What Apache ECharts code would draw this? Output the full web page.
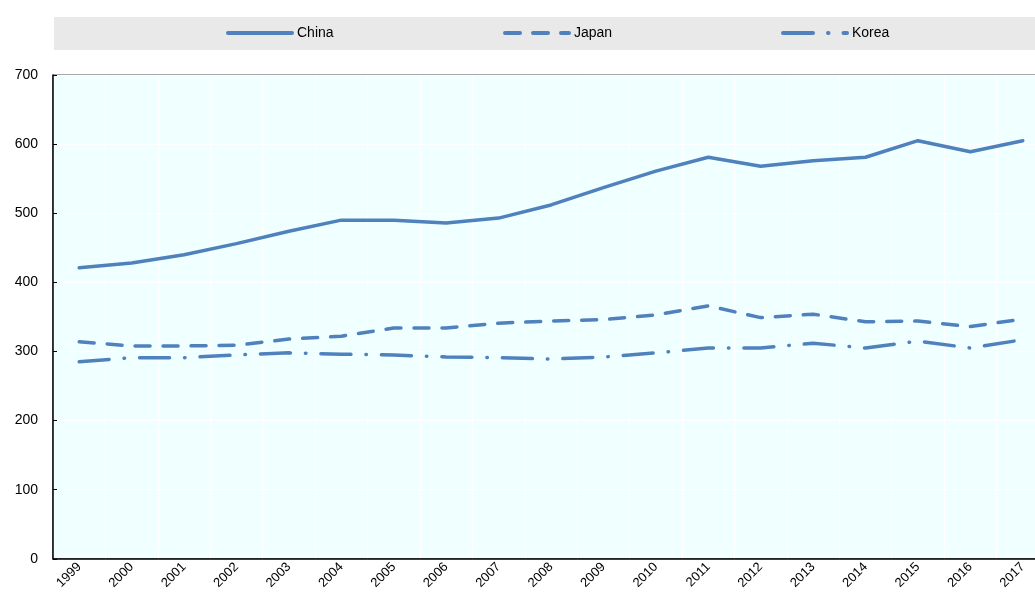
<!DOCTYPE html>
<html>
<head>
<meta charset="utf-8">
<script src="https://cdn.jsdelivr.net/npm/echarts@6/dist/echarts.min.js"></script>
<style>
  html, body { margin: 0; padding: 0; background: #fff; overflow: hidden; }
  /* the plot runs past the right edge of the window, as in the source */
  #chart { width: 1049px; height: 592px; }
</style>
</head>
<body>
<div id="chart"></div>
<script>
  // 数据
  var years = ['1999', '2000', '2001', '2002', '2003', '2004', '2005', '2006', '2007', '2008',
    '2009', '2010', '2011', '2012', '2013', '2014', '2015', '2016', '2017'];
  var china = [421, 428, 440, 456, 474, 490, 490, 486, 493, 512, 537, 561, 581, 568, 576, 581, 605, 589, 605];
  var japan = [314, 308, 308, 309, 318, 322, 334, 334, 341, 344, 346, 353, 366, 349, 354, 343, 344, 336, 347];
  var korea = [285, 291, 291, 295, 298, 296, 295, 292, 291, 289, 292, 298, 305, 305, 312, 305, 315, 305, 317];
  var yTicks = [0, 100, 200, 300, 400, 500, 600, 700];

  var blue = '#4f81bd';
  var font = 'Liberation Sans, Arial, sans-serif';

  var chart = echarts.init(document.getElementById('chart'));

  function legendAt(name, left) {
    return {
      data: [name],
      left: left,
      top: 26,
      padding: 0,
      itemWidth: 64,
      itemHeight: 14,
      itemStyle: { color: 'transparent', borderWidth: 0, opacity: 0 },
      lineStyle: { width: 4 },
      textStyle: { fontFamily: font, fontSize: 14, color: '#000' }
    };
  }

  var option = {
    animation: false,
    graphic: [{
      type: 'rect',
      left: 54, top: 17,
      shape: { width: 1000, height: 33 },
      style: { fill: '#e9e9e9' },
      z: -10
    }],
    legend: [
      legendAt('China', 226),
      legendAt('Japan', 503),
      legendAt('Korea', 781)
    ],
    grid: {
      left: 53,
      right: 0,
      top: 75,
      bottom: 33,
      show: true,
      backgroundColor: '#f0ffff',
      borderColor: '#555',
      borderWidth: 1
    },
    xAxis: {
      type: 'category',
      data: years,
      boundaryGap: true,
      axisLine: { lineStyle: { color: '#000', width: 1.5 } },
      axisTick: { inside: true, length: 5, lineStyle: { color: '#000' } },
      axisLabel: { rotate: 45, margin: 6, fontFamily: font, fontSize: 13, color: '#000' },
      splitLine: { show: true, lineStyle: { color: '#ffffff', width: 1 } }
    },
    yAxis: {
      type: 'value',
      min: 0,
      max: 700,
      interval: 100,
      axisLine: { show: true, lineStyle: { color: '#000', width: 1.5 } },
      axisTick: { show: true, inside: true, length: 4, lineStyle: { color: '#000' } },
      axisLabel: {
        margin: 15, fontFamily: font, fontSize: 14, color: '#000',
        formatter: function (v) { return yTicks.indexOf(v) >= 0 ? String(v) : ''; }
      },
      splitLine: { show: true, lineStyle: { color: '#ffffff', width: 1 } }
    },
    series: [
      {
        name: 'China', type: 'line', data: china, symbol: 'none',
        color: blue,
        lineStyle: { color: blue, width: 3.5, cap: 'round', join: 'round' }
      },
      {
        name: 'Japan', type: 'line', data: japan, symbol: 'none',
        color: blue,
        lineStyle: { color: blue, width: 3.5, type: [15, 13], cap: 'round', join: 'round' }
      },
      {
        name: 'Korea', type: 'line', data: korea, symbol: 'none',
        color: blue,
        lineStyle: { color: blue, width: 3.5, type: [30, 15, 0.5, 15], cap: 'round', join: 'round' }
      }
    ]
  };
  chart.setOption(option);
</script>
</body>
</html>
